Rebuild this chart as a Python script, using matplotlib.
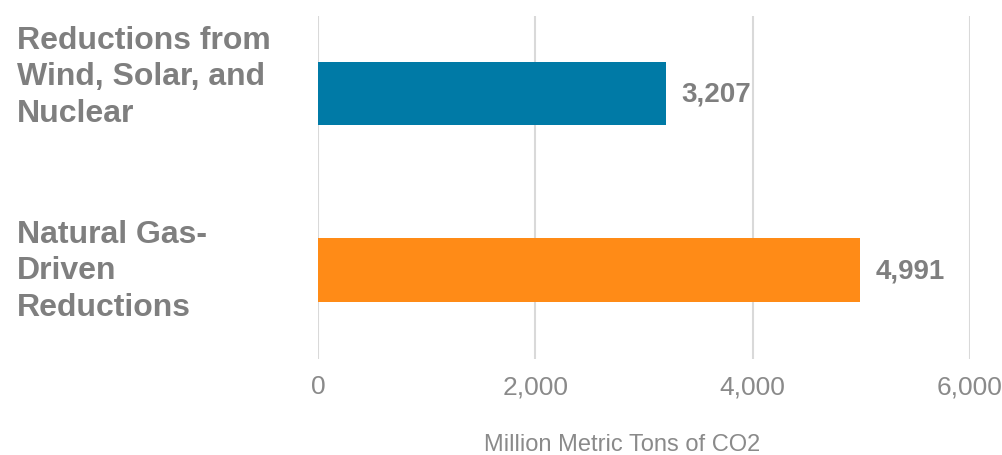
import matplotlib.pyplot as plt

plt.rcParams['font.family'] = ['Liberation Sans', 'DejaVu Sans']

categories = ['Natural Gas-\nDriven\nReductions', 'Reductions from\nWind, Solar, and\nNuclear']
values = [4991, 3207]
colors = ['#FF8B17', '#007AA6']
ticks = [0, 2000, 4000, 6000]
xlabel = 'Million Metric Tons of CO2'

gray = '#7F7F7F'

fig = plt.figure(figsize=(10.02, 4.56), dpi=100)
ax = fig.add_axes([318 / 1002, 1 - 360 / 456, 652 / 1002, 343 / 456])

pos = list(range(len(values)))
ax.barh(pos, values, height=0.36, color=colors, zorder=3)
ax.set_xlim(0, 6000)
ax.set_ylim(-0.504, 1.439)

ax.set_xticks(ticks)
ax.set_xticklabels(['{:,}'.format(t) for t in ticks], fontsize=19, color='#8A8A8A')
ax.tick_params(axis='x', length=0, pad=11)
ax.set_yticks([])
ax.grid(axis='x', color='#D9D9D9', linewidth=1.5, zorder=0)
for s in ax.spines.values():
    s.set_visible(False)

for p, v in zip(pos, values):
    ax.annotate('{:,}'.format(v), (v, p), xytext=(11, 0), textcoords='offset points',
                va='center', ha='left', fontsize=20, fontweight='bold', color=gray)

# category labels sit at the far left, outside the axes
label_tops = [220, 26]
for lab, top in zip(categories, label_tops):
    fig.text(17 / 1002, 1 - top / 456, lab, ha='left', va='top', fontsize=23,
             fontweight='bold', color=gray, linespacing=1.28)

fig.text(622 / 1002, 1 - 451 / 456, xlabel, ha='center', va='baseline',
         fontsize=17, color='#8A8A8A')

fig.savefig('out.png', dpi=100)
